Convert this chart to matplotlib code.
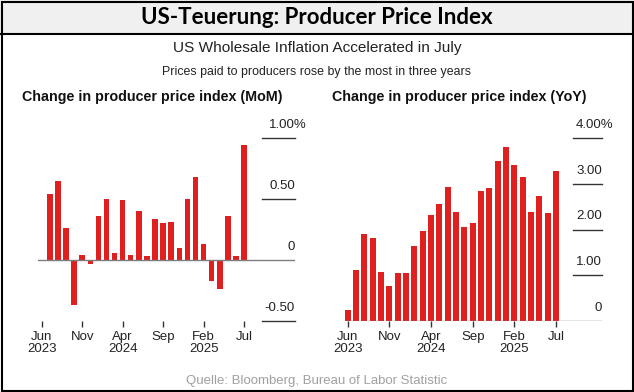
import matplotlib.pyplot as plt
from matplotlib.patches import Rectangle
from matplotlib.transforms import offset_copy

# Daten (Jun 2023 - Jul 2025)
months = ['Jun 2023', 'Jul 2023', 'Aug 2023', 'Sep 2023', 'Oct 2023', 'Nov 2023', 'Dec 2023',
          'Jan 2024', 'Feb 2024', 'Mar 2024', 'Apr 2024', 'May 2024', 'Jun 2024', 'Jul 2024',
          'Aug 2024', 'Sep 2024', 'Oct 2024', 'Nov 2024', 'Dec 2024', 'Jan 2025', 'Feb 2025',
          'Mar 2025', 'Apr 2025', 'May 2025', 'Jun 2025', 'Jul 2025']
mom = [0.00, 0.54, 0.65, 0.26, -0.37, 0.04, -0.03, 0.36, 0.50, 0.06, 0.49, 0.04, 0.40, 0.03,
       0.34, 0.30, 0.31, 0.10, 0.50, 0.68, 0.13, -0.17, -0.24, 0.36, 0.03, 0.94]
yoy = [0.25, 1.12, 1.90, 1.82, 1.07, 0.76, 1.06, 1.04, 1.64, 1.97, 2.31, 2.55, 2.93, 2.39,
       2.06, 2.14, 2.84, 2.91, 3.49, 3.81, 3.42, 3.15, 2.39, 2.73, 2.36, 3.28]
tick_idx = [0, 5, 10, 15, 20, 25]
tick_labels = ['Jun\n2023', 'Nov', 'Apr\n2024', 'Sep', 'Feb\n2025', 'Jul']
mom_ticks = [-0.5, 0, 0.5, 1.0]
mom_tick_labels = ['-0.50', '0', '0.50', '1.00%']
yoy_ticks = [0, 1, 2, 3, 4]
yoy_tick_labels = ['0', '1.00', '2.00', '3.00', '4.00%']

W, H = 634, 392
plt.rcParams['font.family'] = ['Liberation Sans', 'DejaVu Sans']
fig = plt.figure(figsize=(W / 100, H / 100), dpi=100)

RED = '#e0201e'
DARK = '#333333'

# Rahmen und Titelleiste
fig.patches.append(Rectangle((0, 1 - 34 / H), 1, 34 / H, transform=fig.transFigure,
                             facecolor='#f0f0f0', edgecolor='none', zorder=0))
fig.add_artist(plt.Line2D([0, 1], [1 - 34 / H] * 2, transform=fig.transFigure, color='black', lw=1.5))
fig.patches.append(Rectangle((1.5 / W, 1.5 / H), 1 - 3 / W, 1 - 3 / H, transform=fig.transFigure,
                             facecolor='none', edgecolor='black', lw=1.5, zorder=10))

fig.text(0.5, 1 - 17 / H, 'US-Teuerung: Producer Price Index', ha='center', va='center',
         fontsize=16, fontweight='bold', family=['Lato', 'DejaVu Sans'])
fig.text(0.5, 1 - 48 / H, 'US Wholesale Inflation Accelerated in July', ha='center', va='center',
         fontsize=11.1, color='#222222')
fig.text(0.5, 1 - 72 / H, 'Prices paid to producers rose by the most in three years', ha='center',
         va='center', fontsize=8.9, color='#222222')
fig.text(0.5, 1 - 381 / H, 'Quelle: Bloomberg, Bureau of Labor Statistic', ha='center', va='center',
         fontsize=9.5, color='#a0a0a0')


def panel(x0, x1, xlim, values, ticks, labels, seg, width, header, hx):
    ax = fig.add_axes([x0 / W, (H - 321) / H, (x1 - x0) / W, 183 / H])
    ax.set_xlim(*xlim)
    ax.set_ylim(ticks[0], ticks[-1])
    ax.bar(range(len(values)), values, width=width, color=RED, zorder=2)
    for t in ticks:
        if t == 0:
            ax.axhline(0, color='#7f7f7f', lw=1, zorder=3)
        else:
            ax.plot(seg, [t, t], color=DARK, lw=1, clip_on=False)
    lab_tr = offset_copy(ax.transData, fig=fig, x=0, y=9.5, units='points')
    # oberstes Label mit "%" ragt rechts über die Linie hinaus
    pct_tr = offset_copy(ax.transData, fig=fig, x=8.4, y=9.5, units='points')
    for t, lab in zip(ticks, labels):
        ax.text(seg[1], t, lab, ha='right', va='center', fontsize=9.5,
                transform=pct_tr if lab.endswith('%') else lab_tr, color='#222222')
    for s in ax.spines.values():
        s.set_visible(False)
    ax.set_yticks([])
    ax.set_xticks(tick_idx)
    ax.set_xticklabels(tick_labels, fontsize=9.5, linespacing=1.0, color='#222222')
    ax.tick_params(axis='x', length=4, width=1, color=DARK, pad=3)
    ax.patch.set_alpha(0)
    fig.text(hx / W, 1 - 97 / H, header, ha='left', va='center', fontsize=10.3,
             fontweight='bold', color='#111111')
    return ax


panel(37.7, 295, (-0.5, 31.3), mom, mom_ticks, mom_tick_labels, [27.2, 31.3], 0.68,
      'Change in producer price index (MoM)', 22)
panel(344.8, 602, (-0.35, 30.5), yoy, yoy_ticks, yoy_tick_labels, [27.05, 30.5], 0.72,
      'Change in producer price index (YoY)', 332)

fig.savefig('out.png', dpi=100)
